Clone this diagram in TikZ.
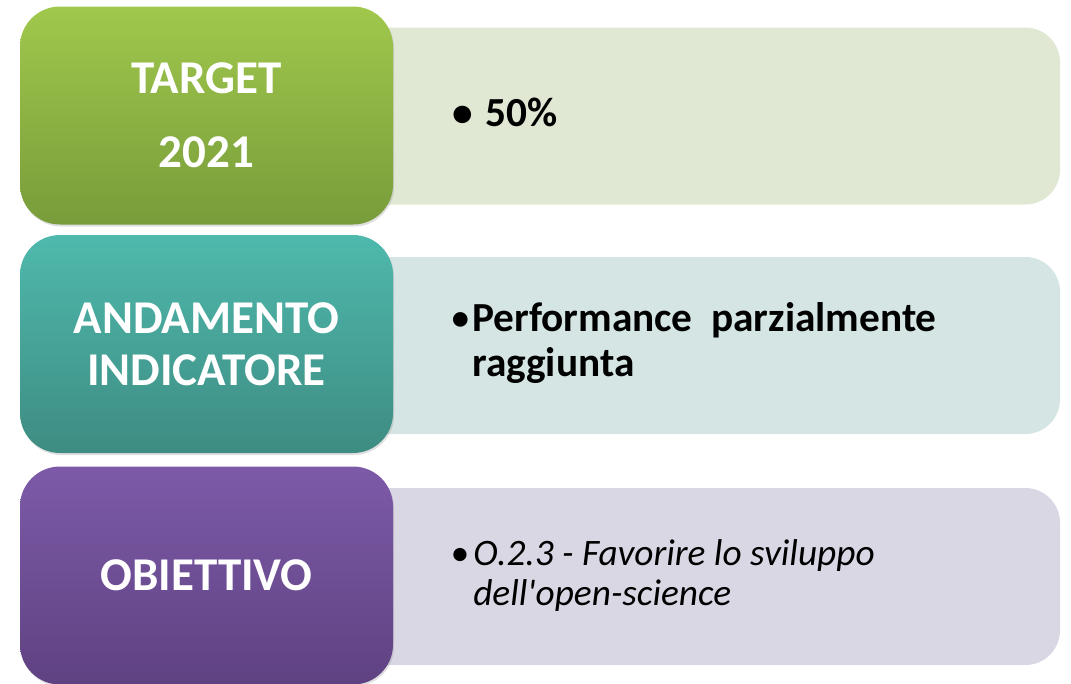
\documentclass[tikz,border=0pt]{standalone}
\usepackage{fontspec}
\setmainfont{Carlito}
\usetikzlibrary{shadows}

\definecolor{tgtTop}{HTML}{A0C84C}
\definecolor{tgtBot}{HTML}{789C3A}
\definecolor{tgtLight}{HTML}{E0E8D3}
\definecolor{andTop}{HTML}{4FB9AD}
\definecolor{andBot}{HTML}{3E8C82}
\definecolor{andLight}{HTML}{D4E5E4}
\definecolor{objTop}{HTML}{7D5AA8}
\definecolor{objBot}{HTML}{5F4282}
\definecolor{objLight}{HTML}{DAD7E4}

\newcommand{\bul}[1]{\makebox[#1][l]{\textbullet}}

\tikzset{
  headbox/.style={rectangle, rounded corners=30pt, minimum width=279.75pt,
    minimum height=163.5pt, text=white, align=center,
    font=\fontsize{35.25}{39}\selectfont\bfseries,
    drop shadow={opacity=0.25, shadow xshift=0.8pt, shadow yshift=-1.5pt}},
  infobox/.style={rectangle, rounded corners=26pt, minimum width=530.25pt,
    minimum height=132.75pt},
  infotext/.style={anchor=base west, align=left, inner sep=0pt},
}

\begin{document}
\begin{tikzpicture}[x=0.75pt, y=-0.75pt]
  \useasboundingbox (0,0) rectangle (1071,683);

  % panels on the right, partly under the headings
  \node[infobox, fill=tgtLight] (tgtinfo) at (706.5,116) {};
  \node[infobox, fill=andLight] (andinfo) at (706.5,345.5) {};
  \node[infobox, fill=objLight] (objinfo) at (706.5,576.5) {};

  % headings
  \node[headbox, top color=tgtTop, bottom color=tgtBot] (tgt) at (206.5,115.5)
    {TARGET\\[16.5pt]2021};
  \node[headbox, top color=andTop, bottom color=andBot] (and) at (206.5,344)
    {ANDAMENTO\\INDICATORE};
  \node[headbox, top color=objTop, bottom color=objBot] (obj) at (206.5,575.5)
    {OBIETTIVO};

  % values (base = last line)
  \node[infotext, font=\fontsize{31}{34}\selectfont\bfseries] (tgtval) at (452,126)
    {\bul{24.75pt}50\%};
  \node[infotext, font=\fontsize{31}{33.75}\selectfont\bfseries] (andval) at (450,376)
    {{\mdseries\bul{16.5pt}}Performance\ \ parzialmente\\\hspace*{16.5pt}raggiunta};
  \node[infotext, font=\fontsize{28}{30}\selectfont\itshape] (objval) at (450,605)
    {\bul{17.25pt}O.2.3 - Favorire lo sviluppo\\\hspace*{17.25pt}dell\textquotesingle open-science};
\end{tikzpicture}
\end{document}
